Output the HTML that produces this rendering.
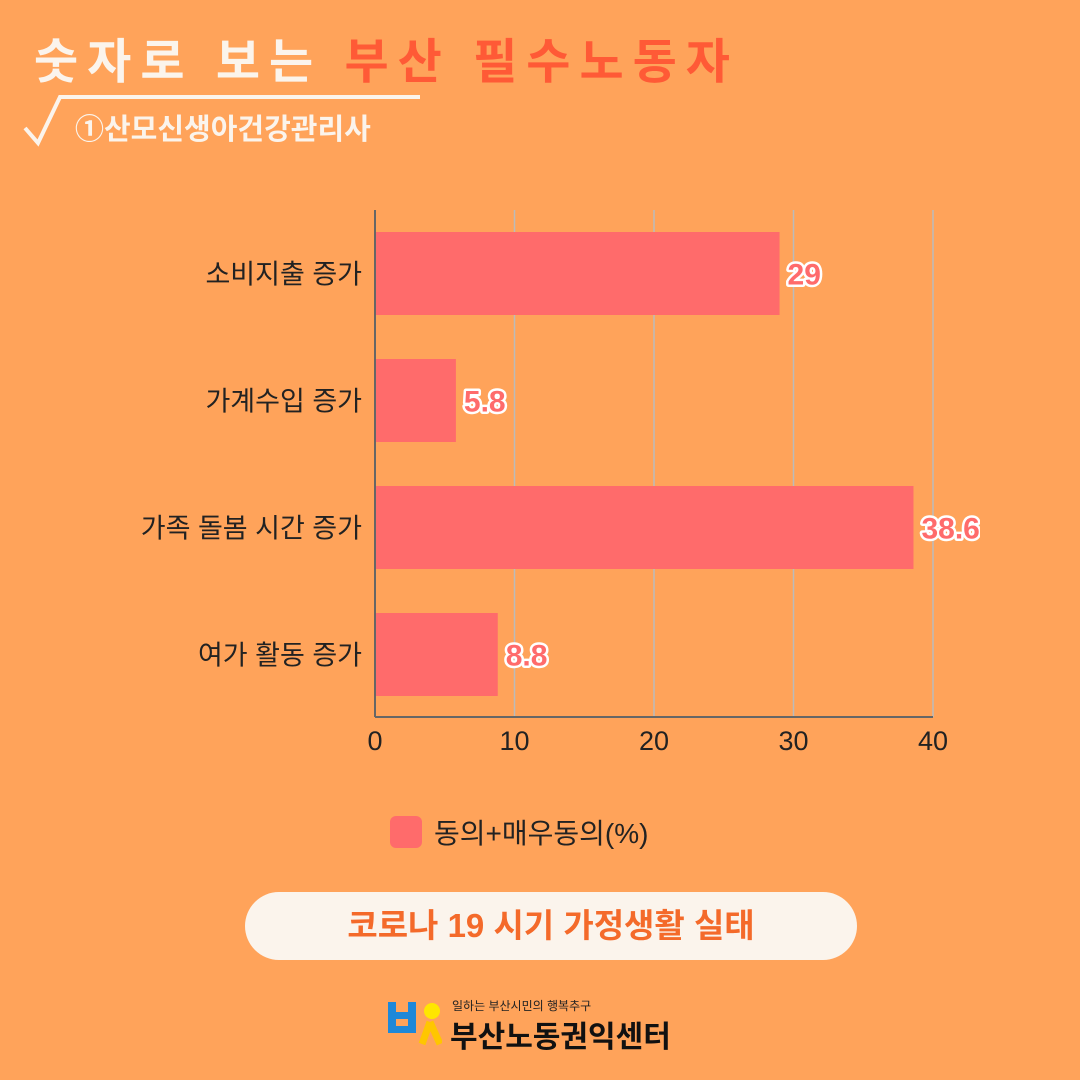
<!DOCTYPE html>
<html><head><meta charset="utf-8">
<style>
body{margin:0;width:1080px;height:1080px;background:#FFA35A;position:relative;overflow:hidden;font-family:"Liberation Sans","Noto Sans CJK KR",sans-serif}
.abs{position:absolute}
</style></head><body>
<div class="abs" style="left:34px;top:22px;font-size:48px;font-weight:bold;letter-spacing:9px;color:#FBF4EC;white-space:nowrap">숫자로 보는 <span style="color:#FF5A36">부산 필수노동자</span></div>
<svg class="abs" style="left:0;top:0" width="430" height="160">
<polyline points="25,128 38,143 60,97 420,97" fill="none" stroke="#FBF4EC" stroke-width="4"/>
</svg>
<div class="abs" style="left:75px;top:106px;font-size:29px;font-weight:bold;color:#FBF4EC;white-space:nowrap">①산모신생아건강관리사</div>
<svg class="abs" style="left:0;top:0" width="1080" height="800" id="chart"></svg>
<div class="abs" style="left:390px;top:812px;display:flex;align-items:center;font-size:28px;color:#222">
<span style="width:32px;height:32px;background:#FF6B6B;border-radius:6px;margin-right:12px;display:inline-block"></span>
<span>동의+매우동의(%)</span></div>
<div class="abs" style="left:245px;top:892px;width:612px;height:68px;border-radius:34px;background:#FBF4EC;color:#F46A2A;font-size:33px;font-weight:bold;text-align:center;line-height:68px">코로나 19 시기 가정생활 실태</div>
<svg class="abs" style="left:386px;top:998px" width="56" height="50">
<rect x="2" y="4" width="8" height="30" fill="#1E88D8"/><rect x="22" y="4" width="8" height="30" fill="#1E88D8"/><rect x="2" y="14" width="28" height="7" fill="#1E88D8"/><rect x="2" y="28" width="28" height="7" fill="#1E88D8"/>
<circle cx="46" cy="13" r="8" fill="#FFE600"/><path d="M44 24 L36 46 M44 24 L54 46" stroke="#FFC600" stroke-width="7" fill="none"/>
</svg>
<div class="abs" style="left:452px;top:997px;font-size:12px;color:#222">일하는 부산시민의 행복추구</div>
<div class="abs" style="left:450px;top:1012px;font-size:30px;font-weight:bold;color:#111">부산노동권익센터</div>
<script>
const categories=["소비지출 증가","가계수입 증가","가족 돌봄 시간 증가","여가 활동 증가"];
const values=[29,5.8,38.6,8.8];
const labels=["29","5.8","38.6","8.8"];
const ticks=[0,10,20,30,40];
const svg=document.getElementById('chart');
const NS='http://www.w3.org/2000/svg';
const x0=375,x1=933,yTop=210,yBot=717,bandTop=232,band=127,barH=83;
const xs=v=>x0+(v/40)*(x1-x0);
function mk(t,a){const e=document.createElementNS(NS,t);for(const k in a)e.setAttribute(k,a[k]);svg.appendChild(e);return e;}
ticks.forEach((t,i)=>{
 if(t>0){const g=mk('line',{x1:xs(t),x2:xs(t),y1:yTop,y2:yBot,stroke:'#BBB','stroke-width':1.5});
 
 }
 const tl=mk('text',{x:xs(t),y:750,'text-anchor':'middle','font-size':27,fill:'#222'});tl.textContent=t;
 
 
});
categories.forEach((c,i)=>{
 const y=bandTop+i*band;
 const r=mk('rect',{x:x0,y:y,width:xs(values[i])-x0,height:barH,fill:'#FF6B6B'});
 
 
 const cl=mk('text',{x:362,y:y+barH/2+10,'text-anchor':'end','font-size':27,fill:'#222'});cl.textContent=c;
 
 
 const vl=mk('text',{x:xs(values[i])+8,y:y+barH/2+11,'font-size':30,fill:'#FF6B6B',stroke:'#fff','stroke-width':5,'paint-order':'stroke','stroke-linejoin':'round','font-weight':'bold'});vl.textContent=labels[i];
 
 
});
const ax=mk('line',{x1:x0,x2:x0,y1:yTop,y2:yBot,stroke:'#666','stroke-width':2});


const bx=mk('line',{x1:x0,x2:x1,y1:yBot,y2:yBot,stroke:'#666','stroke-width':2});


const clip=mk('rect',{x:980,y:480,width:100,height:100,fill:'#FFA35A'});


</script>
</body></html>
